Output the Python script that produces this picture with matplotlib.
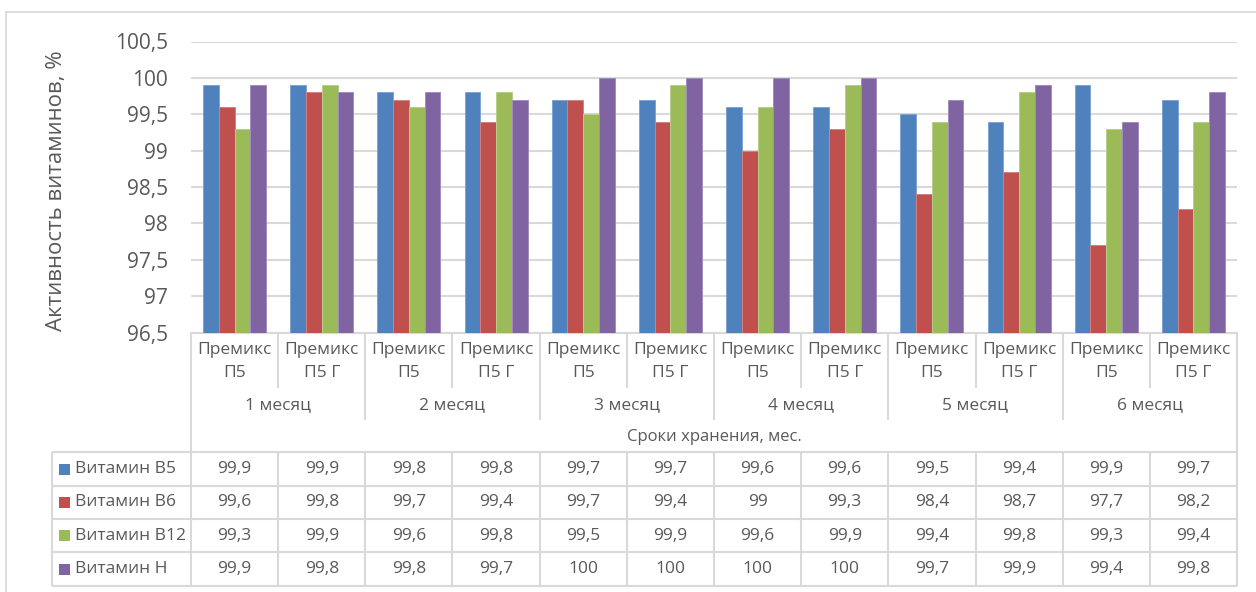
import matplotlib
matplotlib.use("Agg")
import matplotlib.pyplot as plt
from matplotlib.ticker import FuncFormatter, MultipleLocator
from matplotlib.patches import Rectangle

plt.rcParams["font.family"] = ["Open Sans", "DejaVu Sans"]

# --- data -------------------------------------------------------------
months = ["1 месяц", "2 месяц", "3 месяц", "4 месяц", "5 месяц", "6 месяц"]
premixes = ["Премикс\nП5", "Премикс\nП5 Г"]
series_names = ["Витамин B5", "Витамин B6", "Витамин B12", "Витамин H"]

vit_b5 = [99.9, 99.9, 99.8, 99.8, 99.7, 99.7, 99.6, 99.6, 99.5, 99.4, 99.9, 99.7]
vit_b6 = [99.6, 99.8, 99.7, 99.4, 99.7, 99.4, 99.0, 99.3, 98.4, 98.7, 97.7, 98.2]
vit_b12 = [99.3, 99.9, 99.6, 99.8, 99.5, 99.9, 99.6, 99.9, 99.4, 99.8, 99.3, 99.4]
vit_h = [99.9, 99.8, 99.8, 99.7, 100.0, 100.0, 100.0, 100.0, 99.7, 99.9, 99.4, 99.8]

y_title = "Активность витаминов, %"
x_title = "Сроки хранения, мес."

# --- styling ----------------------------------------------------------
colors = ["#4F81BD", "#C0504D", "#9BBB59", "#8064A2"]
edges = ["#7FA3D1", "#D4817F", "#B8CF8A", "#A38DC0"]
grid_c = "#D9D9D9"
text_c = "#595959"

W, H = 1256, 592


def fx(px):
    return px / W


def fy(py):
    return 1 - py / H


def fmt(v):
    if float(v).is_integer():
        return str(int(v))
    return f"{v:.1f}".replace(".", ",")


series = [vit_b5, vit_b6, vit_b12, vit_h]
n_cat = len(vit_b5)
cats = list(range(n_cat))

fig = plt.figure(figsize=(W / 100, H / 100), dpi=100)

# outer chart frame (left and top edges)
fig.add_artist(plt.Line2D([fx(6), fx(6)], [fy(12), 0], color=grid_c, lw=1.2))
fig.add_artist(plt.Line2D([fx(6), 1], [fy(12), fy(12)], color=grid_c, lw=1.2))

# --- main bar axes ----------------------------------------------------
y_top, y_bot = 41.5, 332.5
x_left, x_right = 191, 1237
ax = fig.add_axes([fx(x_left), fy(y_bot), (x_right - x_left) / W, (y_bot - y_top) / H])
ax.set_xlim(-0.5, n_cat - 0.5)
ax.set_ylim(96.5, 100.5)

bw = 0.181
for k, (vals, c, ec) in enumerate(zip(series, colors, edges)):
    offs = (k - 1.5) * bw
    ax.bar([x + offs for x in cats], [v - 96.5 for v in vals], bottom=96.5,
           width=bw, color=c, edgecolor=ec, linewidth=0.7, zorder=3)

ax.yaxis.set_major_locator(MultipleLocator(0.5))
ax.yaxis.set_major_formatter(FuncFormatter(lambda v, p: fmt(round(v, 1))))
ax.grid(axis="y", color=grid_c, lw=1.5, zorder=0)
ax.set_xticks([])
ax.tick_params(axis="y", length=0, pad=16.5, labelsize=15, labelcolor=text_c)
for s in ["top", "right", "left"]:
    ax.spines[s].set_visible(False)
ax.spines["bottom"].set_color(grid_c)
ax.spines["bottom"].set_linewidth(1.5)

fig.text(fx(57), fy(191), y_title, rotation=90, ha="center", va="center",
         fontsize=16, color=text_c)

# --- category labels and data table -----------------------------------
t_bot = 586
tax = fig.add_axes([fx(x_left), fy(t_bot), (x_right - x_left) / W, (t_bot - y_bot) / H])
tax.set_xlim(-0.5, n_cat - 0.5)
tax.set_ylim(t_bot, y_bot)
tax.axis("off")

unit_px = (x_right - x_left) / n_cat
x_leg = -0.5 - (x_left - 52) / unit_px

row_lines = [452, 486, 519, 552, 586]
line_kw = dict(color=grid_c, lw=1.5, clip_on=False, solid_capstyle="butt")

# outer verticals of the label block and table
tax.plot([-0.5, -0.5], [y_bot, t_bot], **line_kw)
tax.plot([n_cat - 0.5, n_cat - 0.5], [y_bot, t_bot], **line_kw)
tax.plot([x_leg, x_leg], [row_lines[0], t_bot], **line_kw)
for ry in row_lines:
    tax.plot([x_leg, n_cat - 0.5], [ry, ry], **line_kw)

# separators between premix labels and between months
for i in range(n_cat - 1):
    xs = i + 0.5
    if i % 2 == 0:
        tax.plot([xs, xs], [y_bot, 388], **line_kw)
    else:
        tax.plot([xs, xs], [y_bot, 420], **line_kw)
    tax.plot([xs, xs], [row_lines[0], t_bot], **line_kw)

# premix labels
for i in cats:
    name = premixes[i % 2].split("\n")
    tax.text(i, 350, name[0], ha="center", va="center", fontsize=12.5, color=text_c)
    tax.text(i, 373, name[1], ha="center", va="center", fontsize=12.5, color=text_c)

# month labels
for m, label in enumerate(months):
    tax.text(2 * m + 0.5, 405, label, ha="center", va="center", fontsize=12.5, color=text_c)

tax.text((n_cat - 1) / 2, 437, x_title, ha="center", va="center", fontsize=12, color=text_c)

# data table rows
for r, (name, vals, c) in enumerate(zip(series_names, series, colors)):
    yc = (row_lines[r] + row_lines[r + 1]) / 2
    sq_w = 11 / unit_px
    tax.add_patch(Rectangle((x_leg + 7 / unit_px, yc - 5.5), sq_w, 11,
                            facecolor=c, edgecolor="none", clip_on=False))
    tax.text(x_leg + 23 / unit_px, yc, name, ha="left", va="center",
             fontsize=12.5, color=text_c, clip_on=False)
    for i, v in enumerate(vals):
        tax.text(i, yc, fmt(v), ha="center", va="center", fontsize=12.5, color=text_c)

fig.savefig("out.png", dpi=100)
